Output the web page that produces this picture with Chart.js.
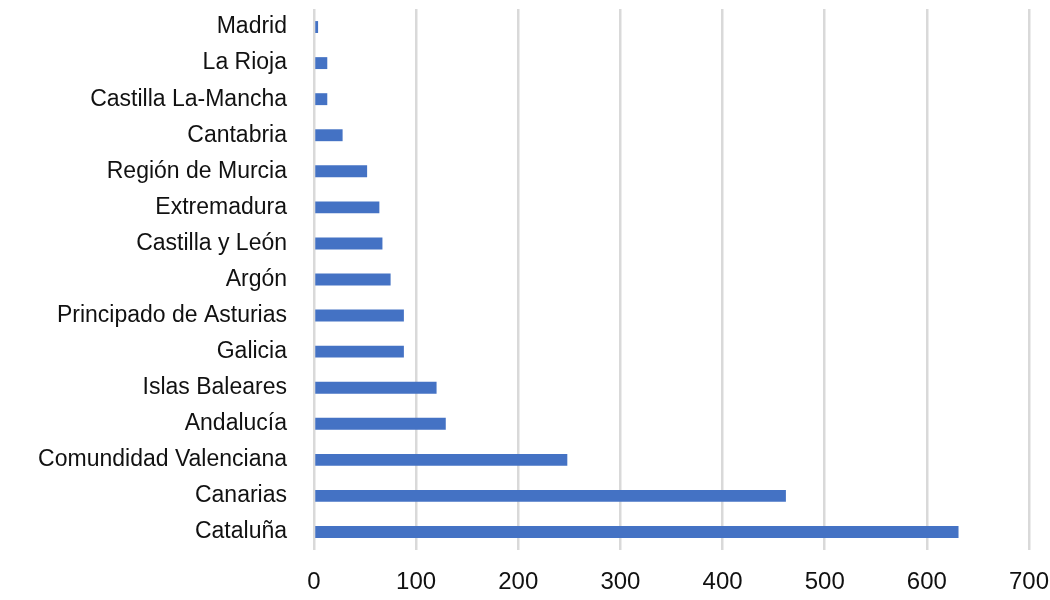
<!DOCTYPE html>
<html><head><meta charset="utf-8">
<script src="https://cdn.jsdelivr.net/npm/chart.js@4"></script>
<style>html,body{margin:0;padding:0;background:#fff}#w{width:1050px;height:600px}</style>
</head><body><div id="w"><canvas id="c"></canvas></div>
<script>
const categories = ["Madrid","La Rioja","Castilla La-Mancha","Cantabria","Región de Murcia","Extremadura","Castilla y León","Argón","Principado de Asturias","Galicia","Islas Baleares","Andalucía","Comundidad Valenciana","Canarias","Cataluña"];
const values = [4,13,13,28,52,64,67,75,88,88,120,129,248,462,631];
const xTicks = [0,100,200,300,400,500,600,700];

const zeroPad = s => { s.paddingTop = 0; s.paddingBottom = 0; s.paddingLeft = 0; s.paddingRight = 0; };

new Chart(document.getElementById('c'), {
  type: 'bar',
  data: { labels: categories, datasets: [{ data: values, backgroundColor: '#4472C4', barPercentage: 0.5, categoryPercentage: 0.66 }] },
  options: {
    indexAxis: 'y', responsive: true, maintainAspectRatio: false, animation: false,
    layout: { padding: { top: 9, right: 21, left: 0, bottom: 0 } },
    plugins: { legend: { display: false }, tooltip: { enabled: false } },
    scales: {
      x: {
        min: 0, max: 700,
        afterBuildTicks: s => { s.ticks = xTicks.map(v => ({ value: v })); },
        afterFit: s => { s.height = 50; zeroPad(s); },
        grid: { color: '#d9d9d9', lineWidth: 2.5, drawTicks: false },
        border: { display: false },
        ticks: { padding: 18, color: '#111', font: { family: 'Liberation Sans', size: 24 } }
      },
      y: {
        afterFit: s => { s.width = 314; zeroPad(s); },
        grid: { display: false, drawTicks: false },
        border: { display: false },
        ticks: { padding: 27, color: '#111', font: { family: 'Liberation Sans', size: 23 } }
      }
    }
  }
});
</script></body></html>
